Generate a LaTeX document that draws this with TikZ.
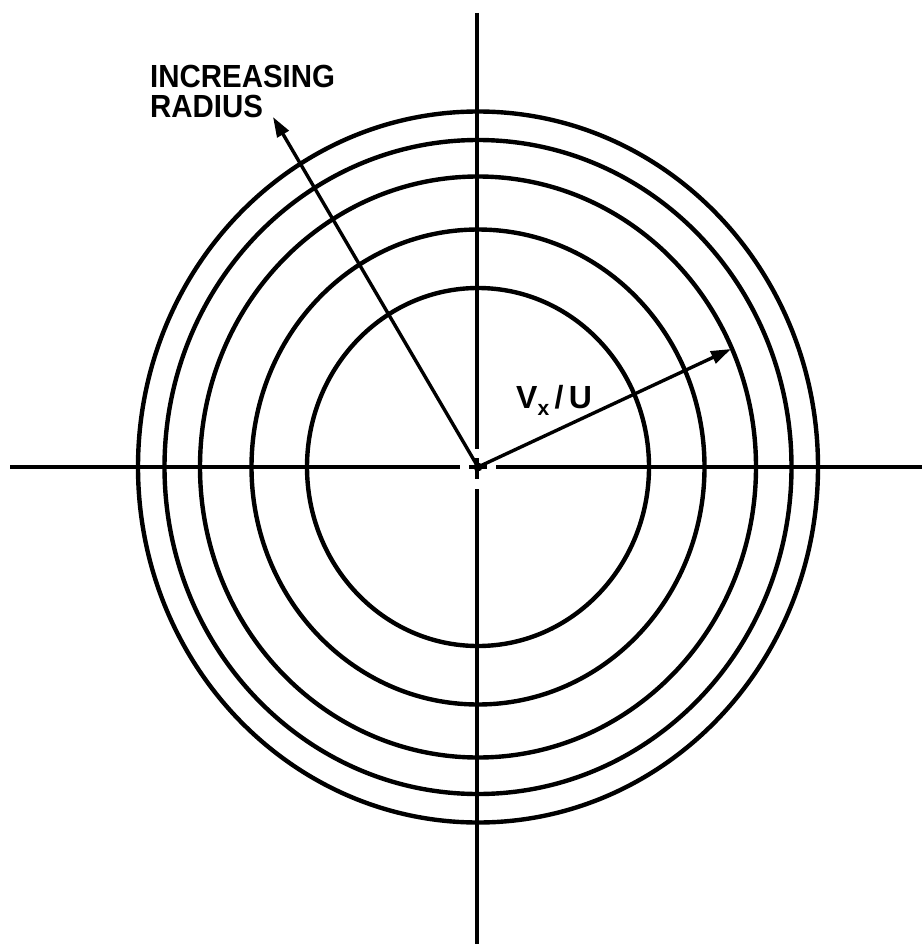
\documentclass[tikz,border=0pt]{standalone}
\usepackage{fontspec}
\setmainfont{Liberation Sans}
\usetikzlibrary{arrows.meta,calc}
\begin{document}
\begin{tikzpicture}[x=1pt,y=-1pt,
  ring/.style={line width=4.4pt},
  axisline/.style={line width=3.4pt},
  vec/.style={line width=3.4pt,-{Triangle[length=20pt,width=13pt]}},
  lab/.style={font=\fontsize{32}{32}\selectfont\bfseries, inner sep=0pt}]
\useasboundingbox (0,0) rectangle (922,944);
\coordinate (o) at (478,467);
\coordinate (L) at (10,467);
\coordinate (R) at (922,467);
\coordinate (T) at (477,13);
\coordinate (B) at (477,944);
% axes with a small gap at the centre
\draw[axisline] (L) -- ($(o)+(-18,0)$);
\draw[axisline] ($(o)+(18,0)$) -- (R);
\draw[axisline] (T) -- ($(o)+(-1,-18)$);
\draw[axisline] ($(o)+(-1,22)$) -- (B);
\draw[axisline] ($(o)+(-9,0)$) -- ($(o)+(9,0)$);
\draw[axisline] ($(o)+(-1,-9)$) -- ($(o)+(-1,12)$);
\fill (o) circle (4.5);
% rings
\draw[ring] (o) ellipse [x radius=171, y radius=179];
\draw[ring] (o) ellipse [x radius=226.5, y radius=237.5];
\draw[ring] (o) ellipse [x radius=278, y radius=290.5];
\draw[ring] (o) ellipse [x radius=313.5, y radius=327];
\draw[ring] (o) ellipse [x radius=340, y radius=355.5];
% vectors
\coordinate (tipA) at (273,117);
\coordinate (tipB) at (731,349);
\draw[vec] (o) -- (tipA);
\draw[vec] (o) -- (tipB);
% labels
\node[lab, anchor=base west] (inc) at (150,88) {\scalebox{0.92}[1]{INCREASING}};
\node[lab, anchor=base west] (rad) at (150,118) {\scalebox{0.92}[1]{RADIUS}};
\node[lab, anchor=base west] (vxu) at (516,408) {V\raisebox{-7pt}{\fontsize{21}{21}\selectfont x}\,/\,U};
\end{tikzpicture}
\end{document}
